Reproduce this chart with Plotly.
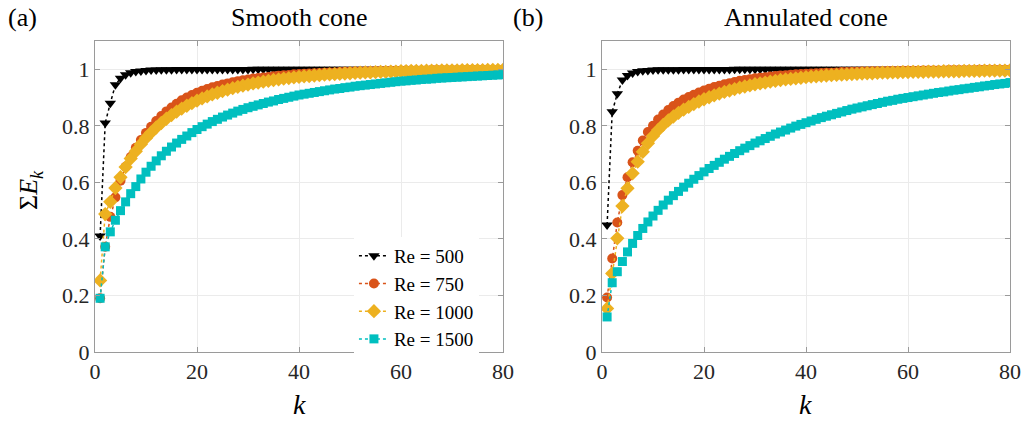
import plotly.graph_objects as go

k = list(range(1, 81))

# Panel (a): Smooth cone
smooth_re500 = [0.410, 0.810, 0.880, 0.945, 0.968, 0.981, 0.988, 0.992, 0.994, 0.996,
                0.997, 0.997, 0.998, 0.998, 0.998, 0.999, 0.999, 0.999, 0.999, 0.999,
                0.999, 0.999, 0.999, 0.999, 0.999, 0.999, 0.999, 0.999, 0.999, 0.999,
                1.000, 1.000, 1.000, 1.000, 1.000, 1.000, 1.000, 1.000, 1.000, 1.000,
                1.000, 1.000, 1.000, 1.000, 1.000, 1.000, 1.000, 1.000, 1.000, 1.000,
                1.000, 1.000, 1.000, 1.000, 1.000, 1.000, 1.000, 1.000, 1.000, 1.000,
                1.000, 1.000, 1.000, 1.000, 1.000, 1.000, 1.000, 1.000, 1.000, 1.000,
                1.000, 1.000, 1.000, 1.000, 1.000, 1.000, 1.000, 1.000, 1.000, 1.000]
smooth_re750 = [0.190, 0.372, 0.478, 0.547, 0.606, 0.655, 0.690, 0.722, 0.750, 0.775,
                0.797, 0.817, 0.835, 0.851, 0.865, 0.878, 0.890, 0.900, 0.909, 0.917,
                0.924, 0.930, 0.936, 0.941, 0.946, 0.950, 0.954, 0.958, 0.961, 0.964,
                0.967, 0.969, 0.971, 0.973, 0.975, 0.977, 0.979, 0.980, 0.982, 0.983,
                0.984, 0.985, 0.986, 0.987, 0.988, 0.989, 0.989, 0.990, 0.991, 0.991,
                0.992, 0.992, 0.993, 0.993, 0.994, 0.994, 0.994, 0.995, 0.995, 0.995,
                0.996, 0.996, 0.996, 0.996, 0.996, 0.997, 0.997, 0.997, 0.997, 0.997,
                0.997, 0.997, 0.998, 0.998, 0.998, 0.998, 0.998, 0.998, 0.998, 0.998]
smooth_re1000 = [0.253, 0.488, 0.531, 0.580, 0.618, 0.654, 0.684, 0.710, 0.735, 0.757,
                 0.776, 0.794, 0.810, 0.825, 0.838, 0.850, 0.861, 0.871, 0.880, 0.889,
                 0.897, 0.904, 0.911, 0.917, 0.923, 0.928, 0.933, 0.938, 0.942, 0.946,
                 0.950, 0.953, 0.956, 0.959, 0.962, 0.964, 0.967, 0.969, 0.971, 0.973,
                 0.975, 0.976, 0.978, 0.979, 0.981, 0.982, 0.983, 0.984, 0.985, 0.986,
                 0.987, 0.988, 0.989, 0.989, 0.990, 0.991, 0.991, 0.992, 0.992, 0.993,
                 0.993, 0.994, 0.994, 0.994, 0.995, 0.995, 0.995, 0.996, 0.996, 0.996,
                 0.996, 0.997, 0.997, 0.997, 0.997, 0.997, 0.998, 0.998, 0.998, 0.998]
smooth_re1500 = [0.190, 0.372, 0.425, 0.466, 0.500, 0.531, 0.560, 0.585, 0.612, 0.636,
                 0.657, 0.676, 0.694, 0.710, 0.725, 0.739, 0.752, 0.764, 0.776, 0.787,
                 0.797, 0.806, 0.815, 0.823, 0.831, 0.838, 0.845, 0.852, 0.858, 0.864,
                 0.869, 0.874, 0.879, 0.884, 0.888, 0.893, 0.897, 0.901, 0.905, 0.909,
                 0.912, 0.915, 0.918, 0.921, 0.924, 0.927, 0.930, 0.932, 0.935, 0.937,
                 0.940, 0.942, 0.944, 0.946, 0.948, 0.950, 0.952, 0.954, 0.956, 0.958,
                 0.959, 0.961, 0.962, 0.964, 0.965, 0.966, 0.968, 0.969, 0.970, 0.971,
                 0.972, 0.973, 0.974, 0.975, 0.976, 0.977, 0.978, 0.979, 0.980, 0.981]

# Panel (b): Annulated cone
annul_re500 = [0.449, 0.850, 0.913, 0.962, 0.978, 0.987, 0.992, 0.995, 0.996, 0.997,
               0.998, 0.998, 0.998, 0.998, 0.998, 0.999, 0.999, 0.999, 0.999, 0.999,
               0.999, 0.999, 0.999, 0.999, 0.999, 1.000, 1.000, 1.000, 1.000, 1.000,
               1.000, 1.000, 1.000, 1.000, 1.000, 1.000, 1.000, 1.000, 1.000, 1.000,
               1.000, 1.000, 1.000, 1.000, 1.000, 1.000, 1.000, 1.000, 1.000, 1.000,
               1.000, 1.000, 1.000, 1.000, 1.000, 1.000, 1.000, 1.000, 1.000, 1.000,
               1.000, 1.000, 1.000, 1.000, 1.000, 1.000, 1.000, 1.000, 1.000, 1.000,
               1.000, 1.000, 1.000, 1.000, 1.000, 1.000, 1.000, 1.000, 1.000, 1.000]
annul_re750 = [0.193, 0.331, 0.458, 0.555, 0.618, 0.671, 0.712, 0.748, 0.778, 0.800,
               0.822, 0.840, 0.856, 0.870, 0.882, 0.893, 0.902, 0.910, 0.918, 0.925,
               0.931, 0.937, 0.942, 0.947, 0.951, 0.955, 0.959, 0.962, 0.965, 0.968,
               0.970, 0.972, 0.974, 0.976, 0.978, 0.979, 0.981, 0.982, 0.983, 0.984,
               0.985, 0.986, 0.987, 0.988, 0.988, 0.989, 0.990, 0.990, 0.991, 0.991,
               0.992, 0.992, 0.993, 0.993, 0.993, 0.994, 0.994, 0.994, 0.995, 0.995,
               0.995, 0.995, 0.996, 0.996, 0.996, 0.996, 0.996, 0.997, 0.997, 0.997,
               0.997, 0.997, 0.997, 0.998, 0.998, 0.998, 0.998, 0.998, 0.998, 0.998]
annul_re1000 = [0.154, 0.278, 0.402, 0.516, 0.579, 0.632, 0.673, 0.708, 0.738, 0.764,
                0.785, 0.803, 0.819, 0.833, 0.846, 0.857, 0.867, 0.877, 0.886, 0.894,
                0.901, 0.908, 0.914, 0.920, 0.925, 0.930, 0.935, 0.939, 0.943, 0.947,
                0.950, 0.953, 0.956, 0.959, 0.962, 0.964, 0.966, 0.968, 0.970, 0.972,
                0.974, 0.975, 0.977, 0.978, 0.979, 0.980, 0.981, 0.982, 0.983, 0.984,
                0.985, 0.986, 0.986, 0.987, 0.988, 0.988, 0.989, 0.989, 0.990, 0.990,
                0.991, 0.991, 0.991, 0.992, 0.992, 0.992, 0.993, 0.993, 0.993, 0.993,
                0.994, 0.994, 0.994, 0.994, 0.995, 0.995, 0.995, 0.995, 0.995, 0.996]
annul_re1500 = [0.124, 0.245, 0.284, 0.320, 0.354, 0.384, 0.412, 0.437, 0.460, 0.481,
                0.501, 0.520, 0.537, 0.553, 0.568, 0.583, 0.597, 0.611, 0.624, 0.637,
                0.649, 0.660, 0.671, 0.682, 0.692, 0.702, 0.712, 0.721, 0.730, 0.739,
                0.747, 0.755, 0.763, 0.771, 0.778, 0.785, 0.792, 0.799, 0.805, 0.811,
                0.817, 0.823, 0.829, 0.834, 0.839, 0.844, 0.849, 0.854, 0.859, 0.863,
                0.867, 0.871, 0.875, 0.879, 0.883, 0.887, 0.890, 0.894, 0.897, 0.900,
                0.903, 0.906, 0.909, 0.912, 0.915, 0.918, 0.920, 0.923, 0.926, 0.928,
                0.931, 0.933, 0.936, 0.938, 0.941, 0.943, 0.946, 0.948, 0.950, 0.953]

series_names = ["Re = 500", "Re = 750", "Re = 1000", "Re = 1500"]
colors = ["#000000", "#D95319", "#EDB120", "#00BFBF"]
symbols = ["triangle-down", "circle", "diamond", "square"]
sizes = [10, 10, 11, 9]

smooth = [smooth_re500, smooth_re750, smooth_re1000, smooth_re1500]
annul = [annul_re500, annul_re750, annul_re1000, annul_re1500]

FONT = "Liberation Serif, Times New Roman, serif"
fig = go.Figure()

for panel, (data, xa, ya) in enumerate([(smooth, "x", "y"), (annul, "x2", "y2")]):
    for i, vals in enumerate(data):
        fig.add_trace(go.Scatter(
            x=k, y=vals, xaxis=xa, yaxis=ya,
            mode="lines+markers",
            name=series_names[i],
            showlegend=(panel == 0),
            line=dict(color=colors[i], width=1.5, dash="dot"),
            marker=dict(symbol=symbols[i], size=sizes[i], color=colors[i],
                        line=dict(width=0)),
        ))

axis_common = dict(
    showline=True, linecolor="#9a9a9a", linewidth=1, mirror="ticks",
    ticks="inside", ticklen=5, tickcolor="#9a9a9a",
    showgrid=True, gridcolor="#ebebeb", gridwidth=1, zeroline=False,
    automargin=False,
    tickfont=dict(family=FONT, size=22, color="#262626"),
)

fig.update_layout(
    width=1024, height=424,
    margin=dict(l=95, r=14, t=41, b=72),
    plot_bgcolor="white", paper_bgcolor="white",
    xaxis=dict(domain=[0, 0.4459], range=[0, 80], tickvals=[0, 20, 40, 60, 80], anchor="y", **axis_common),
    yaxis=dict(domain=[0, 1], range=[0, 1.1], tickvals=[0, 0.2, 0.4, 0.6, 0.8, 1],
               ticktext=["0", "0.2", "0.4", "0.6", "0.8", "1"], anchor="x", **axis_common),
    xaxis2=dict(domain=[0.5541, 1.0], range=[0, 80], tickvals=[0, 20, 40, 60, 80], anchor="y2", **axis_common),
    yaxis2=dict(domain=[0, 1], range=[0, 1.1], tickvals=[0, 0.2, 0.4, 0.6, 0.8, 1],
                ticktext=["0", "0.2", "0.4", "0.6", "0.8", "1"], anchor="x2", **axis_common),
    legend=dict(x=0.283, y=0.37, xanchor="left", yanchor="top",
                bgcolor="white", borderwidth=0,
                font=dict(family=FONT, size=19, color="#000000"),
                itemwidth=30, tracegroupgap=0),
    showlegend=True,
)

annots = [
    dict(text="(a)", x=-0.0787, y=1.074, font=dict(size=26)),
    dict(text="Smooth cone", x=0.223, y=1.074, font=dict(size=26)),
    dict(text="(b)", x=0.473, y=1.074, font=dict(size=26)),
    dict(text="Annulated cone", x=0.777, y=1.074, font=dict(size=26)),
    dict(text="Σ<i>E</i><sub><i>k</i></sub>", x=-0.071, y=0.521, textangle=-90, font=dict(size=26)),
    dict(text="<i>k</i>", x=0.223, y=-0.170, font=dict(size=28)),
    dict(text="<i>k</i>", x=0.777, y=-0.170, font=dict(size=28)),
]
for a in annots:
    f = dict(family=FONT, color="#000000")
    f.update(a.pop("font"))
    fig.add_annotation(xref="paper", yref="paper", showarrow=False,
                       xanchor="center", yanchor="middle", font=f, **a)

fig.write_html("out.html",
               config={"displayModeBar": False},
               post_script="document.body.style.margin='0';document.body.style.overflow='hidden';")
